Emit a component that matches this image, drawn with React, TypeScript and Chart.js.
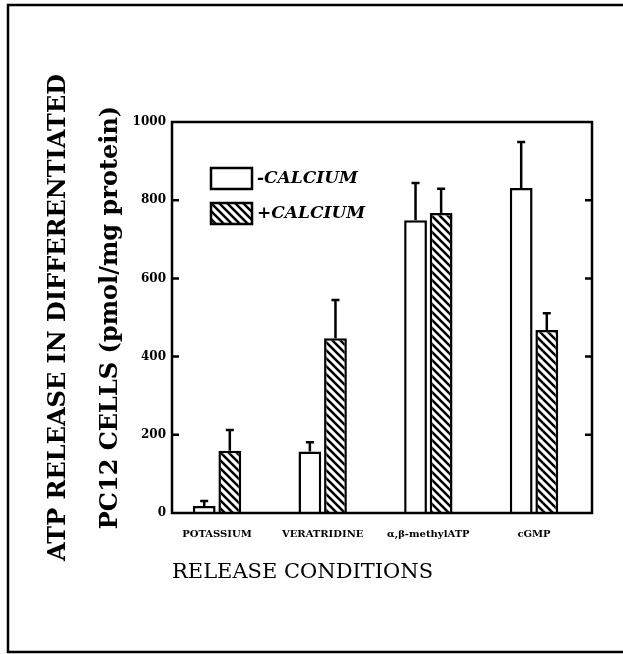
import { useEffect, useRef } from 'react';
import { Chart, registerables } from 'chart.js';

Chart.register(...registerables);

const categories = ['POTASSIUM', 'VERATRIDINE', 'α,β-methylATP', 'cGMP'];
const minusCalcium = [18, 157, 749, 831];
const minusCalciumErr = [13, 24, 95, 118];
const plusCalcium = [159, 447, 767, 468];
const plusCalciumErr = [53, 98, 62, 43];
const seriesLabels = ['-CALCIUM', '+CALCIUM'];
const yTicks = [0, 200, 400, 600, 800, 1000];
const yTitle = ['ATP RELEASE IN DIFFERENTIATED', 'PC12 CELLS (pmol/mg protein)'];
const xTitle = 'RELEASE CONDITIONS';

const SERIF = "'DejaVu Serif', serif";

function makeHatch(ctx: CanvasRenderingContext2D) {
  const c = document.createElement('canvas');
  c.width = 8;
  c.height = 8;
  const g = c.getContext('2d')!;
  g.fillStyle = '#fff';
  g.fillRect(0, 0, 8, 8);
  g.strokeStyle = '#000';
  g.lineWidth = 2.5;
  for (const k of [-8, 0, 8]) {
    g.beginPath();
    g.moveTo(k - 2, -2);
    g.lineTo(k + 10, 10);
    g.stroke();
  }
  return ctx.createPattern(c, 'repeat')!;
}

const framePlugin = {
  id: 'frame',
  beforeDraw(chart: any) {
    const { ctx, width, height } = chart;
    ctx.save();
    ctx.fillStyle = '#fff';
    ctx.fillRect(0, 0, width, height);
    ctx.strokeStyle = '#000';
    ctx.lineWidth = 2.5;
    ctx.beginPath();
    ctx.moveTo(width + 3, 5);
    ctx.lineTo(8, 5);
    ctx.lineTo(8, 652);
    ctx.lineTo(width + 3, 652);
    ctx.stroke();
    ctx.restore();
  },
};

const errorBarPlugin = {
  id: 'errorBars',
  afterDatasetsDraw(chart: any) {
    const { ctx } = chart;
    const yScale = chart.scales.y;
    const errs = [minusCalciumErr, plusCalciumErr];
    ctx.save();
    ctx.strokeStyle = '#000';
    ctx.lineWidth = 2.5;
    chart.data.datasets.forEach((ds: any, i: number) => {
      const meta = chart.getDatasetMeta(i);
      meta.data.forEach((bar: any, j: number) => {
        const v = ds.data[j].y;
        const top = yScale.getPixelForValue(v + errs[i][j]);
        ctx.beginPath();
        ctx.moveTo(bar.x, bar.y);
        ctx.lineTo(bar.x, top);
        ctx.moveTo(bar.x - 4, top);
        ctx.lineTo(bar.x + 4, top);
        ctx.stroke();
      });
    });
    ctx.restore();
  },
};

const boxPlugin = {
  id: 'plotBox',
  afterDraw(chart: any) {
    const { ctx, chartArea } = chart;
    const { left, right, top, bottom } = chartArea;
    const yScale = chart.scales.y;
    ctx.save();
    ctx.strokeStyle = '#000';
    ctx.lineWidth = 2.5;
    ctx.strokeRect(left, top, right - left, bottom - top);
    ctx.beginPath();
    yTicks.slice(1, -1).forEach((v) => {
      const y = yScale.getPixelForValue(v);
      ctx.moveTo(left, y);
      ctx.lineTo(left + 7, y);
      ctx.moveTo(right, y);
      ctx.lineTo(right - 7, y);
    });
    ctx.stroke();

    // legend inside the plot
    const bx = left + 39;
    let by = top + 46;
    chart.data.datasets.forEach((ds: any) => {
      ctx.fillStyle = ds.backgroundColor;
      ctx.fillRect(bx, by, 41, 21);
      ctx.lineWidth = 2.5;
      ctx.strokeStyle = '#000';
      ctx.strokeRect(bx, by, 41, 21);
      ctx.fillStyle = '#000';
      ctx.font = `italic bold 17px ${SERIF}`;
      ctx.textBaseline = 'middle';
      ctx.textAlign = 'left';
      ctx.fillText(ds.label, bx + 46, by + 11);
      by += 35;
    });
    ctx.restore();
  },
};

export default function App() {
  const ref = useRef<HTMLCanvasElement>(null);

  useEffect(() => {
    document.body.style.margin = '0';
    const canvas = ref.current!;
    const ctx = canvas.getContext('2d')!;
    const hatch = makeHatch(ctx);
    const chart = new Chart(canvas, {
      type: 'bar',
      data: {
        datasets: [
          {
            label: seriesLabels[0],
            data: minusCalcium.map((v, i) => ({ x: i, y: v })),
            backgroundColor: '#fff',
            borderColor: '#000',
            borderWidth: 2.5,
            borderSkipped: 'start',
          },
          {
            label: seriesLabels[1],
            data: plusCalcium.map((v, i) => ({ x: i, y: v })),
            backgroundColor: hatch,
            borderColor: '#000',
            borderWidth: 2.5,
            borderSkipped: 'start',
          },
        ],
      },
      options: {
        responsive: false,
        animation: false,
        events: [],
        barPercentage: 0.89,
        categoryPercentage: 0.4845,
        layout: { padding: { left: 0, top: 122, right: 31, bottom: 0 } },
        plugins: {
          legend: { display: false },
          tooltip: { enabled: false },
        },
        scales: {
          x: {
            type: 'linear',
            min: -0.426,
            max: 3.549,
            offset: false,
            afterBuildTicks: (a: any) => {
              a.ticks = categories.map((_, i) => ({ value: i }));
            },
            afterFit: (s: any) => {
              s.height = 141;
            },
            grid: { display: false, drawTicks: false },
            border: { display: false },
            ticks: {
              autoSkip: false,
              maxRotation: 0,
              minRotation: 0,
              padding: 15,
              color: '#000',
              font: { family: SERIF, weight: 'bold', size: 10 },
              callback: (v: any) => categories[v] ?? '',
            },
            title: {
              display: true,
              text: xTitle,
              align: 'start',
              color: '#000',
              font: { family: SERIF, size: 21 },
              padding: { top: 0, bottom: 69 },
            },
          },
          y: {
            type: 'linear',
            min: 0,
            max: 1000,
            afterBuildTicks: (a: any) => {
              a.ticks = yTicks.map((v) => ({ value: v }));
            },
            afterFit: (s: any) => {
              s.width = 172;
            },
            grid: { display: false, drawTicks: false },
            border: { display: false },
            ticks: {
              padding: 6,
              color: '#000',
              font: { family: SERIF, weight: 'bold', size: 12 },
              callback: (v: any) => String(v),
            },
            title: {
              display: true,
              text: yTitle,
              color: '#000',
              font: { family: SERIF, weight: 'bold', size: 24, lineHeight: 2.2 },
              padding: { top: 32, bottom: 0 },
            },
          },
        },
      } as any,
      plugins: [framePlugin, errorBarPlugin, boxPlugin],
    });
    return () => chart.destroy();
  }, []);

  return <canvas ref={ref} width={623} height={654} style={{ display: 'block' }} />;
}
